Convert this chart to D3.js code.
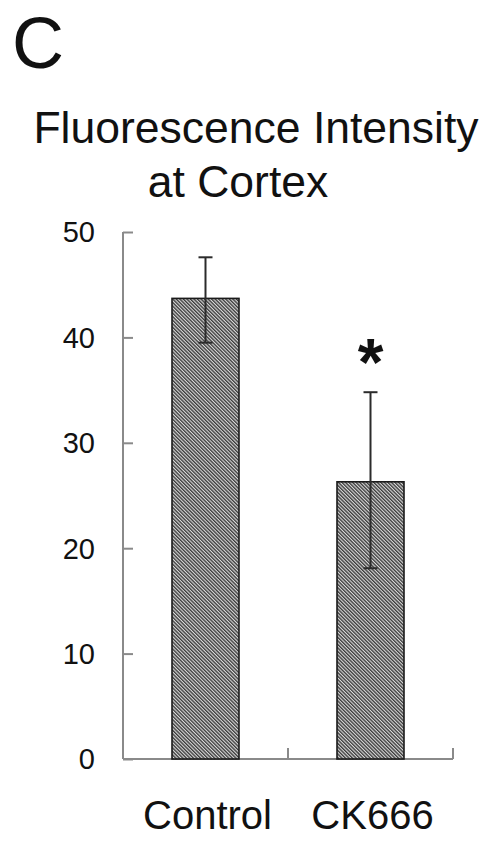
<!DOCTYPE html>
<html>
<head>
<meta charset="utf-8">
<script src="https://cdn.jsdelivr.net/npm/d3@7"></script>
<style>
  html, body { margin: 0; padding: 0; background: #fff; }
  svg { display: block; font-family: "Liberation Sans", Arial, sans-serif; }
</style>
</head>
<body>
<div id="chart"></div>
<script>
// Fluorescence intensity bar chart (panel C)
const WIDTH = 493;
const HEIGHT = 845;

const categories = ["Control", "CK666"];
const means = [43.7, 26.3];
const errHigh = [47.6, 34.8];
const errLow = [39.5, 18.1];
const significant = [false, true];
const yTicks = [0, 10, 20, 30, 40, 50];

const AXIS_COLOR = "#8a8a8a";

const svg = d3.select("#chart")
  .append("svg")
  .attr("width", WIDTH)
  .attr("height", HEIGHT);

// hatch pattern for the bars (lines running top-left to bottom-right)
const HP = 2.5;
const defs = svg.append("defs");
const pat = defs.append("pattern")
  .attr("id", "hatch")
  .attr("patternUnits", "userSpaceOnUse")
  .attr("width", HP)
  .attr("height", HP)
  .attr("patternTransform", "rotate(-45)");
pat.append("rect").attr("width", HP).attr("height", HP).attr("fill", "#dadada");
pat.append("rect").attr("width", HP * 0.55).attr("height", HP).attr("fill", "#3c3c3c");

const x = d3.scaleBand().domain(categories).range([123, 453]).paddingInner(0).paddingOuter(0);
const y = d3.scaleLinear().domain([0, 50]).range([759, 232]);

// panel letter + title
svg.append("text").attr("x", 12).attr("y", 68).attr("font-size", 72).attr("fill", "#111").text("C");
svg.append("text").attr("x", 256).attr("y", 143).attr("text-anchor", "middle")
  .attr("font-size", 44.5).attr("fill", "#111").text("Fluorescence Intensity");
svg.append("text").attr("x", 238).attr("y", 197).attr("text-anchor", "middle")
  .attr("font-size", 44.5).attr("fill", "#111").text("at Cortex");

// y axis
const yAxis = svg.append("g").attr("transform", "translate(123,0)")
  .call(d3.axisRight(y).tickValues(yTicks).tickSize(10).tickFormat(""));
yAxis.select(".domain").remove();
yAxis.selectAll("line").attr("stroke", AXIS_COLOR).attr("stroke-width", 2);
svg.append("line")
  .attr("x1", 123).attr("x2", 123).attr("y1", y(50)).attr("y2", y(0))
  .attr("stroke", AXIS_COLOR).attr("stroke-width", 2);

svg.append("g").selectAll("text")
  .data(yTicks)
  .enter()
  .append("text")
  .attr("x", 95)
  .attr("y", d => y(d))
  .attr("dy", "0.36em")
  .attr("text-anchor", "end")
  .attr("font-size", 29)
  .attr("fill", "#111")
  .text(d => d);

// x axis baseline with upward ticks between groups
svg.append("line")
  .attr("x1", 123).attr("x2", 453).attr("y1", y(0)).attr("y2", y(0))
  .attr("stroke", AXIS_COLOR).attr("stroke-width", 2);
svg.append("g").selectAll("line")
  .data(categories)
  .enter()
  .append("line")
  .attr("x1", d => x(d) + x.bandwidth())
  .attr("x2", d => x(d) + x.bandwidth())
  .attr("y1", y(0))
  .attr("y2", y(0) - 11)
  .attr("stroke", AXIS_COLOR)
  .attr("stroke-width", 2);

// bars
const barW = x.bandwidth() * 0.406;
const cx = d => x(d) + x.bandwidth() / 2;

svg.append("g").selectAll("rect")
  .data(categories)
  .enter()
  .append("rect")
  .attr("x", d => cx(d) - barW / 2)
  .attr("y", (d, i) => y(means[i]))
  .attr("width", barW)
  .attr("height", (d, i) => y(0) - y(means[i]))
  .attr("fill", "url(#hatch)")
  .attr("stroke", "#1a1a1a")
  .attr("stroke-width", 1.6);

// error bars
const err = svg.append("g").attr("stroke", "#2b2b2b").attr("stroke-width", 2);
categories.forEach((c, i) => {
  err.append("line").attr("x1", cx(c)).attr("x2", cx(c)).attr("y1", y(errHigh[i])).attr("y2", y(errLow[i]));
  err.append("line").attr("x1", cx(c) - 7).attr("x2", cx(c) + 7).attr("y1", y(errHigh[i])).attr("y2", y(errHigh[i]));
  err.append("line").attr("x1", cx(c) - 7).attr("x2", cx(c) + 7).attr("y1", y(errLow[i])).attr("y2", y(errLow[i]));
});

// significance star
svg.append("g").selectAll("text")
  .data(categories.filter((c, i) => significant[i]))
  .enter()
  .append("text")
  .attr("x", d => cx(d))
  .attr("y", 385)
  .attr("text-anchor", "middle")
  .attr("font-size", 66)
  .attr("font-weight", "bold")
  .attr("fill", "#111")
  .text("*");

// category labels
svg.append("g").selectAll("text")
  .data(categories)
  .enter()
  .append("text")
  .attr("x", d => cx(d) + 2)
  .attr("y", 829)
  .attr("text-anchor", "middle")
  .attr("font-size", 40)
  .attr("fill", "#111")
  .text(d => d);
</script>
</body>
</html>
